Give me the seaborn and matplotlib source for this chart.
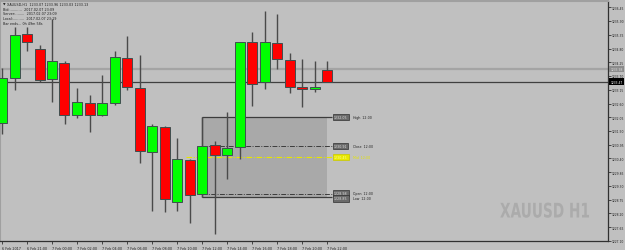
import matplotlib
matplotlib.use("Agg")
import matplotlib.pyplot as plt
from matplotlib.patheffects import AbstractPathEffect
from matplotlib.transforms import Affine2D
import seaborn as sns
import numpy as np
import pandas as pd

# ---------------- data ----------------
bar_times = ["6 Feb 19:00", "6 Feb 20:00", "6 Feb 21:00", "6 Feb 22:00",
             "7 Feb 00:00", "7 Feb 01:00", "7 Feb 02:00", "7 Feb 03:00",
             "7 Feb 04:00", "7 Feb 05:00", "7 Feb 06:00", "7 Feb 07:00",
             "7 Feb 08:00", "7 Feb 09:00", "7 Feb 10:00", "7 Feb 11:00",
             "7 Feb 12:00", "7 Feb 13:00", "7 Feb 14:00", "7 Feb 15:00",
             "7 Feb 16:00", "7 Feb 17:00", "7 Feb 18:00", "7 Feb 19:00",
             "7 Feb 20:00", "7 Feb 21:00", "7 Feb 22:00"]
opens = [1231.82, 1233.61, 1235.38, 1234.78, 1233.58, 1234.22, 1232.15, 1232.62,
         1232.15, 1232.61, 1234.41, 1233.23, 1230.65, 1231.66, 1228.67, 1230.33,
         1228.98, 1230.94, 1230.55, 1230.85, 1235.05, 1233.45, 1235.02, 1234.35,
         1233.26, 1233.17, 1233.95]
highs = [1234.02, 1235.66, 1235.66, 1234.94, 1235.98, 1234.29, 1233.22, 1232.95,
         1233.74, 1234.69, 1235.31, 1234.54, 1231.77, 1231.69, 1231.22, 1230.38,
         1232.05, 1231.11, 1232.25, 1235.05, 1235.45, 1236.30, 1236.18, 1234.62,
         1234.38, 1234.29, 1234.31]
lows = [1231.38, 1233.15, 1234.71, 1233.45, 1232.67, 1231.78, 1232.02, 1231.47,
        1232.12, 1232.54, 1233.15, 1230.21, 1228.29, 1228.25, 1228.29, 1227.82,
        1228.85, 1227.38, 1229.58, 1230.38, 1232.49, 1233.18, 1233.98, 1233.02,
        1232.47, 1233.05, 1233.47]
closes = [1233.61, 1235.35, 1235.05, 1233.55, 1234.29, 1232.14, 1232.65, 1232.15,
          1232.61, 1234.47, 1233.25, 1230.71, 1231.69, 1228.78, 1230.37, 1228.95,
          1230.91, 1230.55, 1230.82, 1235.05, 1233.37, 1235.05, 1234.38, 1233.25,
          1233.17, 1233.26, 1233.47]
ask_price = 1233.98
bid_price = 1233.47
range_bar = 16  # the 12:00 candle
price_ticks = [round(1227.10 + 0.55 * k, 2) for k in range(18)]
date_tick_idx = list(range(0, 27, 2))
date_tick_labels = ["6 Feb 2017", "6 Feb 21:00", "7 Feb 00:00", "7 Feb 02:00",
                    "7 Feb 04:00", "7 Feb 06:00", "7 Feb 08:00", "7 Feb 10:00",
                    "7 Feb 12:00", "7 Feb 14:00", "7 Feb 16:00", "7 Feb 18:00",
                    "7 Feb 20:00", "7 Feb 22:00"]

df = pd.DataFrame({"time": bar_times, "open": opens, "high": highs,
                   "low": lows, "close": closes})
df["idx"] = np.arange(len(df))

# ---------------- style ----------------
BG = "#C0C0C0"
DARK = "#3C3C3C"
sns.set_theme(style="white", rc={"axes.facecolor": BG, "figure.facecolor": BG})
plt.rcParams["font.family"] = ["DejaVu Sans"]

W, H = 625, 251
fig = plt.figure(figsize=(W / 100, H / 100), dpi=100)
ax = fig.add_axes([0, 1 - 242 / H, 608 / W, 240 / H])
ax.set_facecolor(BG)

ax.set_xlim(-0.16, 48.48)
ax.set_ylim(1227.10, 1236.70)

# ---- range rectangle of the 12:00 bar (behind candles)
rb = df.iloc[range_bar]
r_hi, r_lo, r_op, r_cl = rb["high"], rb["low"], rb["open"], rb["close"]
r_mid = (r_hi + r_lo) / 2
ax.fill_between([range_bar, 26.0], r_lo, r_hi, color="#A9A9A9", zorder=1, lw=0)
ax.vlines(range_bar, r_lo, r_hi, color=DARK, lw=0.9, zorder=1.5)
x_end = 26.4
ax.hlines(r_hi, range_bar, x_end, color=DARK, lw=0.9, zorder=1.5)
ax.hlines(r_lo, range_bar, x_end, color=DARK, lw=0.9, zorder=1.5)
ax.plot([range_bar, x_end], [r_cl, r_cl], color=DARK, lw=0.7, ls=(0, (5, 1.5, 1, 1.5)), zorder=1.5)
ax.plot([range_bar, x_end], [r_op, r_op], color=DARK, lw=0.7, ls=(0, (5, 1.5, 1, 1.5)), zorder=1.5)
ax.plot([range_bar - 1.3, x_end], [r_mid, r_mid], color="#E6E600", lw=0.8, ls=(0, (5, 1.5, 1, 1.5)), zorder=1.5)

# ---- ask / bid lines
ax.axhline(ask_price, color="#A4A4A4", lw=1.6, zorder=0.8)
ax.axhline(bid_price, color="#404040", lw=0.9, zorder=0.8)

# ---- candles
up = df["close"] >= df["open"]
ax.vlines(df["idx"], df["low"], df["high"], color="#4A4A4A", lw=1.0, zorder=2)
body_lo = np.minimum(df["open"], df["close"])
body_h = np.maximum(np.abs(df["close"] - df["open"]), 0.05)
colors = np.where(up, "#00FF00", "#FF0000")
ax.bar(df["idx"], body_h, bottom=body_lo, width=0.8, color=colors,
       edgecolor="#3F4F4F", linewidth=0.7, zorder=3)

# ---- range labels
lab_fs = 2.3
def range_label(y, price, name, fc, tc, nc, ec="#303030"):
    ax.text(26.55, y, f"{price:.2f}", fontsize=lab_fs, color=tc, va="center", ha="left",
            zorder=5, bbox=dict(boxstyle="square,pad=0.35", fc=fc, ec=ec, lw=0.5))
    ax.text(28.1, y, name, fontsize=lab_fs, color=nc, va="center", ha="left", zorder=5)

range_label(r_hi, r_hi, "High  12:00", "#6A6A6A", "#E0E0E0", "#202020")
range_label(r_cl, r_cl, "Close  12:00", "#6A6A6A", "#E0E0E0", "#202020")
range_label(r_mid, r_mid, "Mid  12:00", "#E8E800", "#FFFFA0", "#E6E600", ec="#C8C800")
range_label(r_op + 0.05, r_op, "Open  12:00", "#6A6A6A", "#E0E0E0", "#202020")
range_label(r_lo - 0.05, r_lo, "Low  12:00", "#6A6A6A", "#E0E0E0", "#202020")

# ---- axes styling
for s in ["left", "top"]:
    ax.spines[s].set_color("#A0A0A0")
    ax.spines[s].set_linewidth(1.5)
for s in ["right", "bottom"]:
    ax.spines[s].set_color("#303030")
    ax.spines[s].set_linewidth(0.9)

ax.yaxis.tick_right()
ax.set_yticks(price_ticks)
ax.set_yticklabels([f"{p:.2f}" for p in price_ticks])
ax.tick_params(axis="y", which="both", right=True, left=False, length=1.8, width=0.6,
               color="#303030", labelsize=2.2, labelcolor="#202020", pad=0.6)
ax.set_xticks(date_tick_idx)
ax.set_xticklabels(date_tick_labels, ha="left")
ax.tick_params(axis="x", bottom=True, length=2, width=0.6, color="#303030",
               labelsize=2.4, labelcolor="#202020", pad=1.5)
ax.set_xlabel("")
ax.set_ylabel("")
ax.grid(False)

# ---- price boxes on the axis
ax.text(1.004, ask_price, f"{ask_price:.2f}", transform=ax.get_yaxis_transform(),
        fontsize=2.2, color="#E0E0E0", va="center", ha="left", clip_on=False,
        bbox=dict(boxstyle="square,pad=0.45", fc="#8C8C8C", ec="none"), zorder=6)
ax.text(1.004, bid_price, f"{bid_price:.2f}", transform=ax.get_yaxis_transform(),
        fontsize=2.2, color="#FFFFFF", va="center", ha="left", clip_on=False,
        bbox=dict(boxstyle="square,pad=0.45", fc="#000000", ec="none"), zorder=6)

# ---- header info
def ftxt(x, y, s, ha="left", **kw):
    return fig.text(x / W, 1 - y / H, s, va="center", ha=ha, **kw)

ftxt(3, 4.5, "\u25BC", fontsize=2.4, color="#202020")
ftxt(7, 4.5, "XAUUSD,H1  1233.07 1233.96 1233.03 1233.13", fontsize=2.4, color="#202020")
ftxt(3, 10, "Bid:...........  2017.02.07 23:09", fontsize=2.4, color="#202020")
ftxt(3, 14.5, "Server:........  2017.02.07 23:09", fontsize=2.4, color="#202020")
ftxt(3, 19, "Local:..........  2017.02.07 23:19", fontsize=2.4, color="#202020")
ftxt(3, 23.7, "Bar ends... 0h 49m 58s", fontsize=2.4, color="#202020")


# ---- watermark (condensed by squeezing the rendered glyphs horizontally)
class Squeeze(AbstractPathEffect):
    def __init__(self, sx, x0):
        super().__init__()
        self.sx = sx
        self.x0 = x0

    def draw_path(self, renderer, gc, tpath, affine, rgbFace=None):
        aff = affine + Affine2D().translate(-self.x0, 0).scale(self.sx, 1).translate(self.x0, 0)
        renderer.draw_path(gc, tpath, aff, rgbFace)


wm = ftxt(545, 213, "XAUUSD H1", ha="center", fontsize=14.5, color="#ABABAB",
          fontweight="bold", family=["DejaVu Sans"])
wm.set_path_effects([Squeeze(0.68, 545)])

fig.savefig("out.png", dpi=100, facecolor=BG)
